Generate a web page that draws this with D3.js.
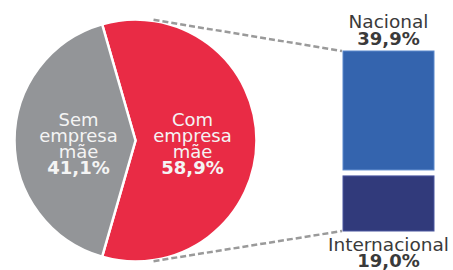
<!DOCTYPE html>
<html>
<head>
<meta charset="utf-8">
<script src="https://cdn.jsdelivr.net/npm/d3@7"></script>
<style>
  body { margin: 0; background: #fff; }
  svg { display: block; font-family: "DejaVu Sans", sans-serif; }
</style>
</head>
<body>
<svg id="chart" width="453" height="270"></svg>
<script>
// pie slices
const pieNames = [["Com", "empresa", "mãe"], ["Sem", "empresa", "mãe"]];
const pieValues = [58.9, 41.1];
const pieLabels = ["58,9%", "41,1%"];
const pieColors = ["#e92b45", "#939598"];

// bar segments (split of "Com empresa mãe")
const barNames = ["Internacional", "Nacional"];
const barValues = [19.0, 39.9];
const barLabels = ["19,0%", "39,9%"];
const barColors = ["#313a7b", "#3464ae"];
const barStrokes = ["#4b56a0", "#5a88cc"];

const svg = d3.select("#chart");

const cx = 135.5, cy = 140.5, r = 121;
const redSpan = pieValues[0] / d3.sum(pieValues) * 2 * Math.PI;

// red slice centred on the right side, like Excel's pie of bar
const pie = d3.pie()
  .sort(null)
  .startAngle(Math.PI / 2 - redSpan / 2)
  .endAngle(Math.PI / 2 - redSpan / 2 + 2 * Math.PI);

const arc = d3.arc().innerRadius(0).outerRadius(r);

const g = svg.append("g").attr("transform", `translate(${cx},${cy})`);

const slices = pie(pieValues);

g.selectAll("path")
  .data(slices)
  .enter()
  .append("path")
  .attr("d", arc)
  .attr("fill", (d, i) => pieColors[i])
  .attr("stroke", "#fff")
  .attr("stroke-width", 2.5)
  .attr("stroke-linejoin", "miter");

// labels inside the slices
const labelArc = d3.arc().innerRadius(57).outerRadius(57);
slices.forEach((d, i) => {
  const [lx] = labelArc.centroid(d);
  const t = g.append("text")
    .attr("x", lx)
    .attr("y", -15)
    .attr("text-anchor", "middle")
    .attr("fill", "#f4f4f4")
    .style("font-size", "18px");
  pieNames[i].forEach((w, k) => {
    t.append("tspan").attr("x", lx).attr("dy", k === 0 ? 0 : 16).text(w);
  });
  t.append("tspan").attr("x", lx).attr("dy", 16)
    .style("font-weight", "bold").text(pieLabels[i]);
});

// stacked bar
const barX = 343, barW = 91, gap = 3;
const y = d3.scaleLinear().domain([0, d3.sum(barValues)]).range([231, 51]);
const stack = d3.cumsum(barValues);

barValues.forEach((v, i) => {
  const lo = i === 0 ? 0 : stack[i - 1];
  const hi = stack[i];
  const top = y(hi) + (i < barValues.length - 1 ? gap : 0);
  const bottom = y(lo) - (i > 0 ? gap : 0);
  svg.append("rect")
    .attr("x", barX)
    .attr("y", top)
    .attr("width", barW)
    .attr("height", bottom - top)
    .attr("fill", barColors[i])
    .attr("stroke", barStrokes[i])
    .attr("stroke-width", 1);
});

// connector lines
const connAngle = 8.5 * Math.PI / 180;
const conn = [
  [cx + (r + 1) * Math.sin(connAngle), cy - (r + 1) * Math.cos(connAngle), barX - 1, y(d3.sum(barValues))],
  [cx + (r + 1) * Math.sin(connAngle), cy + (r + 1) * Math.cos(connAngle), barX - 1, y(0)]
];
svg.selectAll("line.conn")
  .data(conn)
  .enter()
  .append("line")
  .attr("class", "conn")
  .attr("x1", (d) => d[0]).attr("y1", (d) => d[1])
  .attr("x2", (d) => d[2]).attr("y2", (d) => d[3])
  .attr("stroke", "#9a9a9a")
  .attr("stroke-width", 2.5)
  .attr("stroke-dasharray", "6,3");

// bar labels
const bx = barX + barW / 2;
const labelPos = [[251, 267], [28, 45]];
barValues.forEach((v, i) => {
  svg.append("text")
    .attr("x", bx).attr("y", labelPos[i][0])
    .attr("text-anchor", "middle")
    .attr("fill", "#3a3a3a")
    .style("font-size", "18.5px")
    .text(barNames[i]);
  svg.append("text")
    .attr("x", bx).attr("y", labelPos[i][1])
    .attr("text-anchor", "middle")
    .attr("fill", "#3a3a3a")
    .style("font-size", "18px")
    .style("font-weight", "bold")
    .text(barLabels[i]);
});
</script>
</body>
</html>
